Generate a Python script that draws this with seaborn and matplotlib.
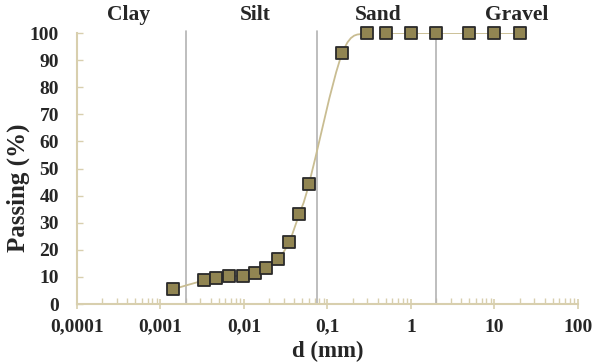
import numpy as np
import pandas as pd
import matplotlib
matplotlib.use("Agg")
import matplotlib.pyplot as plt
from matplotlib.path import Path
from matplotlib.patches import PathPatch
import seaborn as sns

# ---- data ----
diameter_mm = [0.0014, 0.0033, 0.0046, 0.0067, 0.0096, 0.0136, 0.0182, 0.0258,
               0.0347, 0.046, 0.060, 0.150, 0.3, 0.5, 1.0, 2.0, 5.0, 10.0, 20.0]
passing_pct = [5.4, 8.7, 9.5, 10.2, 10.5, 11.4, 13.3, 16.6,
               22.9, 33.3, 44.3, 92.5, 100, 100, 100, 100, 100, 100, 100]
boundaries_mm = [0.002, 0.075, 2.0]
class_names = ["Clay", "Silt", "Sand", "Gravel"]
class_label_x = [0.00041, 0.0136, 0.40, 18.6]
xtick_values = [0.0001, 0.001, 0.01, 0.1, 1, 10, 100]
xtick_labels = ["0,0001", "0,001", "0,01", "0,1", "1", "10", "100"]
ytick_values = list(range(0, 101, 10))

df = pd.DataFrame({"d": diameter_mm, "p": passing_pct})

sns.set_theme(style="white")
plt.rcParams["font.family"] = ["Liberation Serif", "DejaVu Serif"]
plt.rcParams["font.weight"] = "bold"

AX_COL = "#d8cfae"
LINE_COL = "#c9bd92"
FACE_COL = "#918552"

fig = plt.figure(figsize=(5.95, 3.62), dpi=100)
ax = fig.add_axes([0.1294, 0.1602, 0.842, 0.7486])
ax.set_xscale("log")
ax.set_xlim(1e-4, 100)
ax.set_ylim(0, 100)

# boundary lines
for b in boundaries_mm:
    ax.axvline(b, ymin=0, ymax=1.007, color="#b3b3b3", lw=1.2, zorder=1, clip_on=False)

# smoothed connecting line (Bezier through the measured points, like a spreadsheet smooth line)
lx = np.log10(np.asarray(df["d"], float))
ly = np.asarray(df["p"], float)
P = np.column_stack([lx, ly])
verts = [P[0]]
codes = [Path.MOVETO]
n = len(P)
for i in range(n - 1):
    p0 = P[i - 1] if i > 0 else P[i]
    p1 = P[i]
    p2 = P[i + 1]
    p3 = P[i + 2] if i + 2 < n else P[i + 1]
    c1 = p1 + (p2 - p0) / 6.0
    c2 = p2 - (p3 - p1) / 6.0
    verts += [c1, c2, p2]
    codes += [Path.CURVE4] * 3
verts = np.array(verts)
verts[:, 0] = 10 ** verts[:, 0]
ax.add_patch(PathPatch(Path(verts, codes), fill=False, edgecolor=LINE_COL, lw=1.3, zorder=2))

sns.scatterplot(data=df, x="d", y="p", ax=ax, marker="s", s=70, color=FACE_COL,
                edgecolor="#2a2a2a", linewidth=1.3, zorder=3, legend=False, clip_on=False)

# axes styling
for side in ["top", "right"]:
    ax.spines[side].set_visible(False)
for side in ["left", "bottom"]:
    ax.spines[side].set_color(AX_COL)
    ax.spines[side].set_linewidth(1.5)

ax.set_xticks(xtick_values)
ax.set_xticklabels(xtick_labels)
ax.xaxis.set_minor_locator(matplotlib.ticker.LogLocator(base=10, subs=np.arange(2, 10)))
ax.xaxis.set_minor_formatter(matplotlib.ticker.NullFormatter())
ax.tick_params(axis="x", which="major", direction="inout", length=7, width=1.2,
               color=AX_COL, labelsize=14, pad=7, bottom=True)
ax.tick_params(axis="x", which="minor", direction="in", length=4, width=1.0,
               color=AX_COL, bottom=True)
ax.set_yticks(ytick_values)
ax.tick_params(axis="y", which="major", direction="in", length=4, width=1.0,
               color=AX_COL, labelsize=14, pad=13, left=True)
for lab in ax.get_xticklabels() + ax.get_yticklabels():
    lab.set_fontweight("bold")

ax.set_xlabel("d (mm)", fontsize=16.5, fontweight="bold", labelpad=4)
ax.set_ylabel("Passing (%)", fontsize=18, fontweight="bold")
ax.yaxis.set_label_coords(-0.094, 0.43)

for name, xpos in zip(class_names, class_label_x):
    ax.text(xpos, 1.066, name, transform=ax.get_xaxis_transform(), ha="center", va="center",
            fontsize=15.5, fontweight="bold")

ax.grid(False)
fig.savefig("out.png", dpi=100)
